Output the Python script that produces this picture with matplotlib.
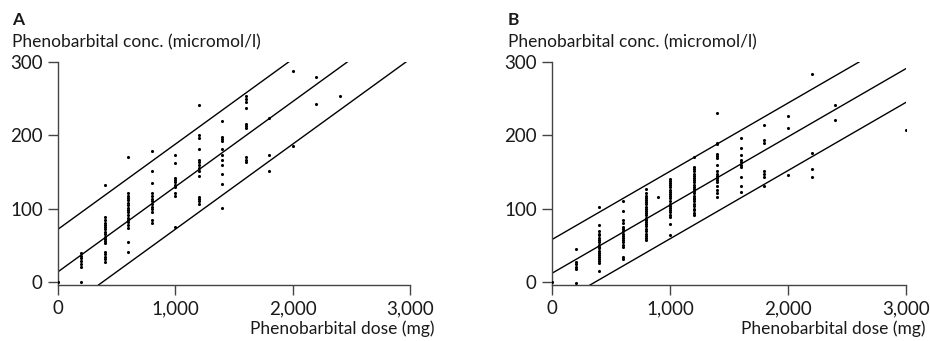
import matplotlib
matplotlib.use("Agg")
import matplotlib.pyplot as plt
from matplotlib.ticker import FuncFormatter

plt.rcParams['font.family'] = ['Lato', 'DejaVu Sans']

# panel A: dose (mg) -> measured concentrations (micromol/l)
doses_a = [0, 200, 400, 600, 800, 1000, 1200, 1400, 1600, 1800, 2000, 2200, 2400]
conc_a = [
    [0],
    [0, 20, 25, 29, 33, 36, 39],
    [132, 89, 85, 81, 78, 75, 72, 68, 65, 62, 59, 56, 53, 41, 38, 34, 31, 27],
    [171, 122, 118, 115, 112, 108, 105, 101, 98, 95, 91, 88, 85, 82, 78, 74, 54, 41],
    [178, 151, 135, 122, 118, 113, 110, 106, 103, 99, 96, 84, 80],
    [173, 162, 142, 139, 136, 133, 129, 122, 118, 75],
    [241, 201, 197, 182, 166, 163, 160, 156, 152, 144, 116, 113, 110, 106],
    [220, 198, 195, 192, 181, 173, 166, 159, 148, 134, 101],
    [254, 249, 245, 237, 216, 213, 210, 170, 167, 164],
    [223, 173, 151],
    [288, 186],
    [279, 243],
    [253],
]
# regression line and prediction band: slope, intercepts (lower, mid, upper)
slope_a = 0.116
intercepts_a = [-44, 14, 72]

# panel B
doses_b = [0, 200, 400, 600, 800, 900, 1000, 1200, 1400, 1600, 1800, 2000, 2200, 2400, 3000]
conc_b = [
    [0],
    [45, 27, 24, 21, 18, -1],
    [103, 78, 69, 66, 64, 60, 57, 54, 51, 48, 46, 43, 40, 37, 34, 32, 29, 26, 15],
    [110, 97, 84, 81, 75, 72, 69, 66, 63, 60, 57, 54, 51, 48, 34, 31],
    [127, 121, 118, 115, 112, 109, 106, 103, 100, 97, 94, 91, 88, 85, 82, 79, 76, 73, 70, 66, 63, 60, 57],
    [116],
    [141, 138, 135, 132, 129, 126, 123, 120, 117, 114, 110, 107, 104, 101, 98, 95, 92, 89, 79, 64],
    [171, 157, 154, 151, 148, 145, 142, 139, 136, 133, 130, 127, 124, 121, 118, 115, 113, 110, 107, 104, 100, 98, 94, 92],
    [230, 190, 188, 175, 172, 169, 160, 151, 148, 145, 142, 139, 136, 131, 126, 122, 116],
    [197, 183, 173, 167, 163, 160, 157, 143, 131, 123],
    [214, 194, 190, 152, 148, 143, 131],
    [227, 210, 146],
    [283, 176, 154, 143],
    [241, 221],
    [207],
]
slope_b = 0.093
intercepts_b = [-34, 12, 58]

x_ticks = [0, 1000, 2000, 3000]
y_ticks = [0, 100, 200, 300]
ylabel = "Phenobarbital conc. (micromol/l)"
xlabel = "Phenobarbital dose (mg)"

text_col = "#1a1a1a"
axis_col = "#444444"

fig = plt.figure(figsize=(9.3, 3.41), dpi=100)
ax_a = fig.add_axes([58 / 930, 1 - 285 / 341, 352 / 930, 223 / 341])
ax_b = fig.add_axes([552 / 930, 1 - 285 / 341, 354 / 930, 223 / 341])


def draw_panel(ax, doses, conc, slope, intercepts):
    xs, ys = [], []
    for d, vals in zip(doses, conc):
        xs += [d] * len(vals)
        ys += vals
    ax.scatter(xs, ys, s=5, color="black", linewidths=0, zorder=3)
    for b in intercepts:
        ax.axline((0, b), slope=slope, color="black", lw=1.0)
    ax.set_xlim(0, 3000)
    ax.set_ylim(-4, 300)
    ax.set_xticks(x_ticks)
    ax.set_yticks(y_ticks)
    ax.xaxis.set_major_formatter(FuncFormatter(lambda v, p: f"{int(v):,}"))
    for s in ["top", "right"]:
        ax.spines[s].set_visible(False)
    for s in ["left", "bottom"]:
        ax.spines[s].set_color(axis_col)
        ax.spines[s].set_linewidth(1.0)
    ax.tick_params(direction="out", length=7, width=1.0, color=axis_col,
                   labelsize=13.5, labelcolor=text_col, pad=4)


draw_panel(ax_a, doses_a, conc_a, slope_a, intercepts_a)
draw_panel(ax_b, doses_b, conc_b, slope_b, intercepts_b)

for left, right, letter in [(12, 434, "A"), (508, 925, "B")]:
    fig.text(left / 930, 1 - 20 / 341, letter, fontsize=12.5, fontweight="bold",
             color=text_col, va="center", ha="left")
    fig.text(left / 930, 1 - 42 / 341, ylabel, fontsize=12.5,
             color=text_col, va="center", ha="left")
    fig.text(right / 930, 1 - 329 / 341, xlabel, fontsize=12.5,
             color=text_col, va="center", ha="right")

fig.savefig("out.png", dpi=100)
